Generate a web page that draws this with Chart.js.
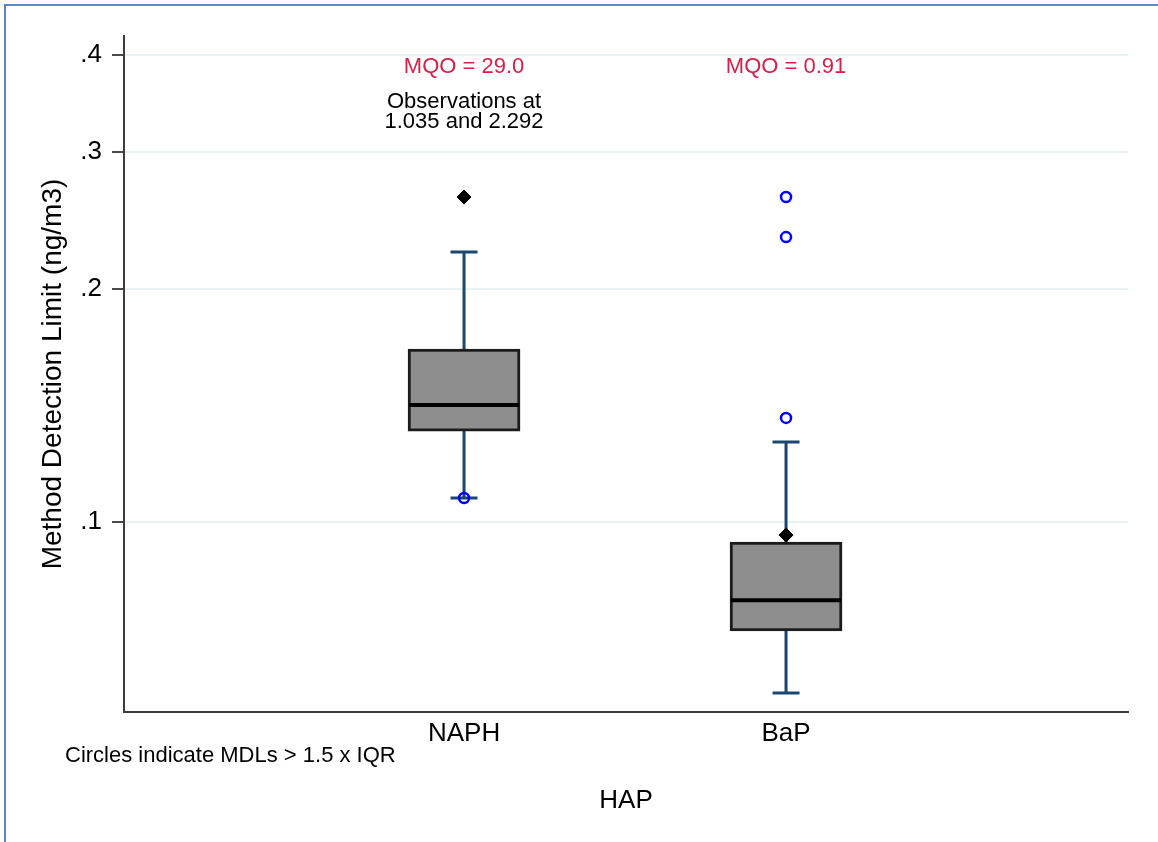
<!DOCTYPE html>
<html>
<head>
<meta charset="utf-8">
<script src="https://cdn.jsdelivr.net/npm/chart.js@4.4.0/dist/chart.umd.min.js"></script>
<style>
  html, body { margin: 0; padding: 0; background: #fff; }
</style>
</head>
<body>
<canvas id="boxplot" width="1158" height="842"></canvas>
<script>
// MDL summary per compound (ng/m3)
var categories = ['NAPH', 'BaP'];
var catPos = [1, 2];
var q1 = [0.1310, 0.0724];
var medians = [0.1415, 0.0793];
var q3 = [0.1671, 0.0942];
var whiskerLow = [0.1074, 0.0602];
var whiskerHigh = [0.2229, 0.1268];
var outliers = [[0.1074], [0.2624, 0.2330, 0.1362]];
var diamonds = [0.2624, 0.0962];
var mqoLabels = ['MQO = 29.0', 'MQO = 0.91'];
var notes = [['Observations at', '1.035 and 2.292'], []];
var yTicks = [0.1, 0.2, 0.3, 0.4];

var FONT = "'Liberation Sans', Arial, sans-serif";

var outlierPts = [];
outliers.forEach(function(list, i) {
    list.forEach(function(v) { outlierPts.push({ x: catPos[i], y: v }); });
});

var boxPlugin = {
    id: 'boxParts',
    beforeDraw: function(chart) {
        var ctx = chart.ctx;
        ctx.save();
        ctx.fillStyle = '#ffffff';
        ctx.fillRect(0, 0, chart.width, chart.height);
        // frame on left and top edge
        ctx.strokeStyle = '#5b87c4';
        ctx.lineWidth = 2;
        ctx.beginPath();
        ctx.moveTo(5, chart.height);
        ctx.lineTo(5, 5);
        ctx.lineTo(chart.width, 5);
        ctx.stroke();
        ctx.restore();
    },
    beforeDatasetsDraw: function(chart) {
        var ctx = chart.ctx, xs = chart.scales.x, ys = chart.scales.y;
        ctx.save();
        ctx.strokeStyle = '#1a476f';
        ctx.lineWidth = 3;
        catPos.forEach(function(p, i) {
            var x = xs.getPixelForValue(p);
            var yHi = ys.getPixelForValue(whiskerHigh[i]);
            var yLo = ys.getPixelForValue(whiskerLow[i]);
            ctx.beginPath();
            ctx.moveTo(x, ys.getPixelForValue(q3[i]));
            ctx.lineTo(x, yHi);
            ctx.moveTo(x - 13.5, yHi);
            ctx.lineTo(x + 13.5, yHi);
            ctx.moveTo(x, ys.getPixelForValue(q1[i]));
            ctx.lineTo(x, yLo);
            ctx.moveTo(x - 13.5, yLo);
            ctx.lineTo(x + 13.5, yLo);
            ctx.stroke();
        });
        ctx.restore();
    },
    afterDatasetDraw: function(chart, args) {
        if (args.index !== 0) return;
        var ctx = chart.ctx, ys = chart.scales.y;
        var meta = chart.getDatasetMeta(0);
        ctx.save();
        ctx.strokeStyle = '#000000';
        ctx.lineWidth = 4;
        meta.data.forEach(function(bar, i) {
            var half = bar.width / 2;
            var y = ys.getPixelForValue(medians[i]);
            ctx.beginPath();
            ctx.moveTo(bar.x - half + 1, y);
            ctx.lineTo(bar.x + half - 1, y);
            ctx.stroke();
        });
        ctx.restore();
    },
    afterDraw: function(chart) {
        var ctx = chart.ctx, xs = chart.scales.x, top = chart.chartArea.top;
        ctx.save();
        ctx.textAlign = 'center';
        ctx.textBaseline = 'middle';
        catPos.forEach(function(p, i) {
            var x = xs.getPixelForValue(p);
            ctx.font = '22px ' + FONT;
            ctx.fillStyle = '#d6204a';
            ctx.fillText(mqoLabels[i], x, top + 31);
            ctx.fillStyle = '#000000';
            notes[i].forEach(function(line, k) {
                ctx.fillText(line, x, top + 66 + k * 20);
            });
        });
        ctx.textAlign = 'left';
        ctx.font = '22px ' + FONT;
        ctx.fillStyle = '#000000';
        ctx.fillText('Circles indicate MDLs > 1.5 x IQR', 65, 756);
        ctx.restore();
    }
};

new Chart(document.getElementById('boxplot'), {
    type: 'bar',
    plugins: [boxPlugin],
    data: {
        datasets: [{
            type: 'bar',
            data: catPos.map(function(p, i) { return { x: p, y: [q1[i], q3[i]] }; }),
            backgroundColor: '#8e8e8e',
            borderColor: '#1c1c1c',
            borderWidth: 3,
            borderSkipped: false,
            barThickness: 112,
            order: 3
        }, {
            type: 'scatter',
            data: outlierPts,
            pointStyle: 'circle',
            pointRadius: 5,
            borderColor: '#0000ff',
            borderWidth: 2.5,
            backgroundColor: 'rgba(255,255,255,0)',
            order: 1
        }, {
            type: 'scatter',
            data: catPos.map(function(p, i) { return { x: p, y: diamonds[i] }; }),
            pointStyle: 'rectRot',
            pointRadius: 7,
            borderColor: '#000000',
            borderWidth: 1,
            backgroundColor: '#000000',
            order: 1
        }]
    },
    options: {
        responsive: false,
        animation: false,
        layout: { padding: { left: 0, top: 36, right: 30, bottom: 0 } },
        plugins: { legend: { display: false }, tooltip: { enabled: false } },
        scales: {
            x: {
                type: 'linear',
                min: -0.056,
                max: 3.062,
                offset: false,
                afterFit: function(s) { s.height = 130; },
                afterBuildTicks: function(s) { s.ticks = catPos.map(function(p) { return { value: p }; }); },
                grid: { display: false, drawTicks: false },
                border: { display: true, color: '#3c3c3c', width: 2 },
                ticks: {
                    padding: 6,
                    color: '#000000',
                    font: { family: FONT, size: 26 },
                    callback: function(v) { var k = catPos.indexOf(v); return k >= 0 ? categories[k] : ''; }
                },
                title: {
                    display: true,
                    text: 'HAP',
                    color: '#000000',
                    font: { family: FONT, size: 26 },
                    padding: { top: 0, bottom: 26 }
                }
            },
            y: {
                type: 'logarithmic',
                min: 0.0569,
                max: 0.4232,
                afterFit: function(s) { s.width = 124; },
                afterBuildTicks: function(s) { s.ticks = yTicks.map(function(v) { return { value: v }; }); },
                grid: {
                    color: '#eaf1f2',
                    lineWidth: 2,
                    tickColor: '#4a4a4a',
                    tickLength: 12,
                    tickWidth: 2
                },
                border: { display: true, color: '#3c3c3c', width: 2 },
                ticks: {
                    padding: 10,
                    color: '#000000',
                    font: { family: FONT, size: 26 },
                    callback: function(v) { return String(v).replace(/^0/, ''); }
                },
                title: {
                    display: true,
                    text: 'Method Detection Limit (ng/m3)',
                    color: '#000000',
                    font: { family: FONT, size: 28 },
                    padding: { top: 36, bottom: 0 }
                }
            }
        }
    }
});
</script>
</body>
</html>
